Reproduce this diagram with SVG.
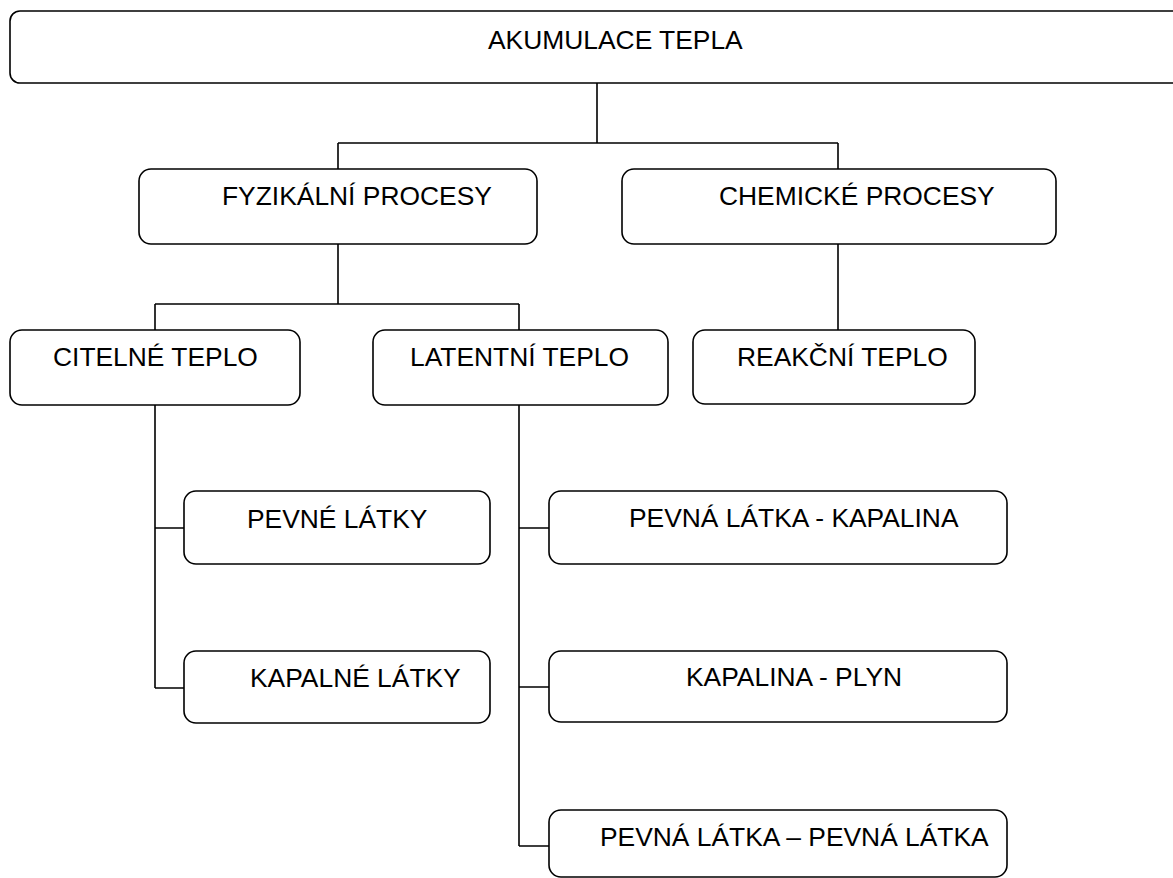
<svg xmlns="http://www.w3.org/2000/svg" width="1173" height="878" viewBox="0 0 1173 878">
<style>
.box{fill:#fff;stroke:#000;stroke-width:1.6}
.lbl{font-family:"Liberation Sans",Arial,sans-serif;font-size:26.4px;fill:#000}
.con{fill:none;stroke:#000;stroke-width:1.6}
</style>
<rect width="1173" height="878" fill="#fff"/>
<g id="connectors">
<path class="con" d="M597,83 V143 M338,143 H838 M338,143 V169 M838,143 V169"/>
<path class="con" d="M338,244 V304 M155,304 H519 M155,304 V330 M519,304 V330"/>
<path class="con" d="M838,244 V330"/>
<path class="con" d="M155,405 V688 M155,528 H184 M155,688 H184"/>
<path class="con" d="M519,405 V846 M519,528 H549 M519,687 H549 M519,846 H549"/>
</g>
<g id="akumulace"><rect class="box" x="10" y="11" width="1180" height="72" rx="10"/><text class="lbl" x="488" y="49">AKUMULACE TEPLA</text></g>
<g id="fyzikalni"><rect class="box" x="139" y="169" width="398" height="75" rx="12"/><text class="lbl" x="222" y="205">FYZIKÁLNÍ PROCESY</text></g>
<g id="chemicke"><rect class="box" x="622" y="169" width="434" height="75" rx="12"/><text class="lbl" x="719" y="205">CHEMICKÉ PROCESY</text></g>
<g id="citelne"><rect class="box" x="10" y="330" width="290" height="75" rx="12"/><text class="lbl" x="53" y="366">CITELNÉ TEPLO</text></g>
<g id="latentni"><rect class="box" x="373" y="330" width="295" height="75" rx="12"/><text class="lbl" x="410" y="366">LATENTNÍ TEPLO</text></g>
<g id="reakcni"><rect class="box" x="693" y="330" width="282" height="74" rx="12"/><text class="lbl" x="737" y="366">REAKČNÍ TEPLO</text></g>
<g id="pevne"><rect class="box" x="184" y="491" width="306" height="73" rx="12"/><text class="lbl" x="247" y="528">PEVNÉ LÁTKY</text></g>
<g id="kapalne"><rect class="box" x="184" y="651" width="306" height="72" rx="12"/><text class="lbl" x="250" y="687">KAPALNÉ LÁTKY</text></g>
<g id="pevna-kapalina"><rect class="box" x="549" y="491" width="458" height="73" rx="12"/><text class="lbl" x="629" y="527">PEVNÁ LÁTKA - KAPALINA</text></g>
<g id="kapalina-plyn"><rect class="box" x="549" y="651" width="458" height="71" rx="12"/><text class="lbl" x="686" y="686">KAPALINA - PLYN</text></g>
<g id="pevna-pevna"><rect class="box" x="549" y="810" width="458" height="67" rx="12"/><text class="lbl" x="600" y="846">PEVNÁ LÁTKA – PEVNÁ LÁTKA</text></g>
</svg>
